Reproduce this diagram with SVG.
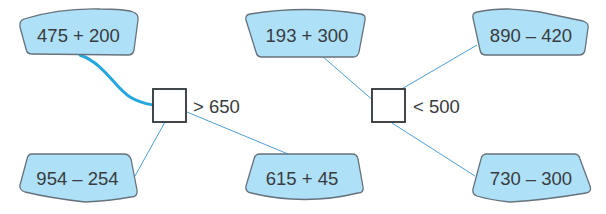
<svg xmlns="http://www.w3.org/2000/svg" width="606" height="214" viewBox="0 0 606 214">
<style>
.card{fill:#aee0f7;stroke:#66727c;stroke-width:1.3;stroke-linejoin:round}
.t{font-family:"Liberation Sans",Arial,sans-serif;font-size:18.5px;fill:#383c40}
.c{text-anchor:middle}
.box{fill:#ffffff;stroke:#2f3438;stroke-width:1.8}
.ln{fill:none;stroke:#4d9fd9;stroke-width:1}
.hl{fill:none;stroke:#27a7e0;stroke-width:3;stroke-linecap:round}
</style>
<rect width="606" height="214" fill="#ffffff"/>
<g id="connectors">
<path class="hl" d="M80,55 C105,64 115,88 130,97 C140,103 147,104 153,105"/>
<line class="ln" x1="165" y1="122" x2="135" y2="176"/>
<line class="ln" x1="187" y1="112" x2="288" y2="154"/>
<line class="ln" x1="322" y1="56" x2="375" y2="102"/>
<line class="ln" x1="400" y1="90" x2="477" y2="45"/>
<line class="ln" x1="392" y1="123" x2="475" y2="176"/>
</g>
<g id="n475">
<path class="card" d="M24,19 Q60,8 100,9 Q125,9 133,12 Q139,14 138,20 L134,50 Q133,55 128,55 L32,54 Q27,54 26,49 L20,27 Q19,21 24,19 Z"/>
<text class="t c" x="78.5" y="42">475 + 200</text>
</g>
<g id="n193">
<path class="card" d="M250,14 Q305,5 361,14 Q366,15 365,20 L359,52 Q358,57 353,57 L262,57 Q257,57 256,52 L246,20 Q245,15 250,14 Z"/>
<text class="t c" x="307" y="42">193 + 300</text>
</g>
<g id="n890">
<path class="card" d="M477,12 Q505,6 540,12 L583,21 Q589,23 588,28 L585,50 Q584,55 579,55 L486,55 Q481,55 480,50 L473,18 Q472,13 477,12 Z"/>
<text class="t c" x="531" y="42">890 – 420</text>
</g>
<g id="n954">
<path class="card" d="M32,154 L124,154 Q129,154 131,159 L137,190 Q138,197 131,197 Q110,201 85,202 Q50,198 25,192 Q19,190 20,185 L27,159 Q28,154 32,154 Z"/>
<text class="t c" x="77.5" y="185">954 – 254</text>
</g>
<g id="n615">
<path class="card" d="M260,154 L352,154 Q357,154 358,159 L363,187 Q364,193 358,193 Q305,206 251,193 Q245,192 246,186 L254,159 Q255,154 260,154 Z"/>
<text class="t c" x="302" y="185">615 + 45</text>
</g>
<g id="n730">
<path class="card" d="M487,154 L574,154 Q579,154 580,159 L590,186 Q592,192 586,193 Q545,200 510,202 Q490,200 477,196 Q472,194 473,189 L481,159 Q482,154 487,154 Z"/>
<text class="t c" x="531" y="185">730 – 300</text>
</g>
<g id="box1">
<rect class="box" x="153" y="89" width="33" height="33"/>
<text class="t" x="193" y="113">&gt; 650</text>
</g>
<g id="box2">
<rect class="box" x="372" y="89" width="33" height="33"/>
<text class="t" x="413" y="113">&lt; 500</text>
</g>
</svg>
